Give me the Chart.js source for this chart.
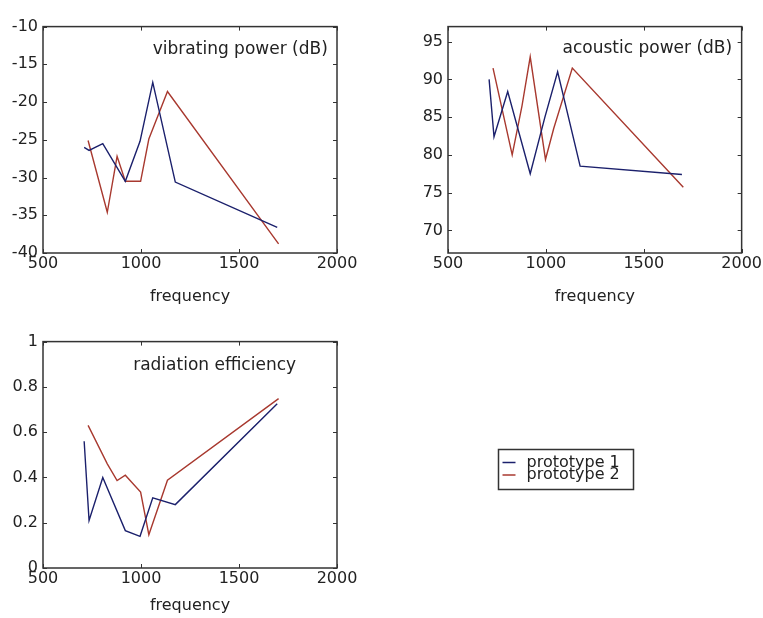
<!DOCTYPE html>
<html>
<head>
<meta charset="utf-8">
<title>prototype 1 / prototype 2</title>
<script src="https://cdn.jsdelivr.net/npm/chart.js@4.4.1/dist/chart.umd.min.js"></script>
<style>
  body { margin: 0; background: #fff; overflow: hidden; }
  .wrap { position: relative; width: 763px; height: 618px; }
  canvas { position: absolute; }
</style>
</head>
<body>
<div class="wrap">
  <canvas id="vibChart" width="362" height="294" style="left:0;top:12px"></canvas>
  <canvas id="acoChart" width="358" height="294" style="left:405px;top:12px"></canvas>
  <canvas id="radChart" width="763" height="293" style="left:0;top:327px"></canvas>
</div>
<script>
// frequencies of the two prototypes
const freqP1 = [710, 735, 805, 920, 995, 1060, 1175, 1695];
const freqP2 = [730, 828, 878, 920, 998, 1040, 1135, 1702];

// vibrating power (dB)
const vibP1 = [-26.0, -26.4, -25.5, -30.5, -25.2, -17.4, -30.6, -36.6];
const vibP2 = [-25.1, -34.6, -27.2, -30.5, -30.5, -24.9, -18.6, -38.8];

// acoustic power (dB)
const acoP1 = [90.0, 82.4, 88.4, 77.5, 85.0, 91.0, 78.5, 77.4];
const acoP2 = [91.5, 80.0, 86.5, 93.0, 79.4, 83.5, 91.5, 75.7];

// radiation efficiency
const radP1 = [0.56, 0.21, 0.40, 0.165, 0.14, 0.31, 0.28, 0.725];
const radP2 = [0.63, 0.46, 0.386, 0.41, 0.335, 0.147, 0.388, 0.748];

// tick labels
const freqTicks = [500, 1000, 1500, 2000];
const vibTicks = [-40, -35, -30, -25, -20, -15, -10];
const acoTicks = [70, 75, 80, 85, 90, 95];
const radTicks = [0, 0.2, 0.4, 0.6, 0.8, 1];

const seriesNames = ["prototype 1", "prototype 2"];
const BLUE = "#1b206c";
const RED = "#a8392f";

Chart.defaults.font.family = "'DejaVu Sans', sans-serif";
Chart.defaults.font.size = 16;
Chart.defaults.color = "#222";

const toPoints = (xs, ys) => xs.map((x, i) => ({ x: x, y: ys[i] }));

// box round the plot, inward ticks, note text and (optional) legend
const boxPlugin = {
  id: "box",
  afterDatasetsDraw(chart, args, opts) {
    const { ctx, chartArea: a, scales } = chart;
    ctx.save();
    ctx.strokeStyle = "#333";
    ctx.lineWidth = 1;
    ctx.beginPath();
    scales.x.ticks.forEach((t) => {
      const px = Math.round(scales.x.getPixelForValue(t.value)) + 0.5;
      ctx.moveTo(px, a.bottom); ctx.lineTo(px, a.bottom - 4);
      ctx.moveTo(px, a.top); ctx.lineTo(px, a.top + 4);
    });
    scales.y.ticks.forEach((t) => {
      const py = Math.round(scales.y.getPixelForValue(t.value)) + 0.5;
      ctx.moveTo(a.left, py); ctx.lineTo(a.left + 4, py);
      ctx.moveTo(a.right, py); ctx.lineTo(a.right - 4, py);
    });
    ctx.stroke();
    ctx.lineWidth = 1.5;
    ctx.strokeRect(a.left, a.top, a.width, a.height);

    // note inside the axes
    ctx.fillStyle = "#222";
    ctx.font = "17px 'DejaVu Sans', sans-serif";
    ctx.textBaseline = "middle";
    ctx.textAlign = "left";
    ctx.fillText(opts.note, scales.x.getPixelForValue(opts.noteX), scales.y.getPixelForValue(opts.noteY));

    if (opts.legend) {
      const L = opts.legend;
      ctx.lineWidth = 1.5;
      ctx.strokeRect(L.x, L.y, L.w, L.h);
      ctx.font = "16px 'DejaVu Sans', sans-serif";
      chart.data.datasets.forEach((ds, i) => {
        const y = L.y + 13 + i * 12.5;
        ctx.strokeStyle = ds.borderColor;
        ctx.beginPath();
        ctx.moveTo(L.x + 4, y); ctx.lineTo(L.x + 17, y);
        ctx.stroke();
        ctx.fillStyle = "#222";
        ctx.fillText(ds.label, L.x + 28, y);
      });
    }
    ctx.restore();
  },
};

function makeChart(id, p1, p2, yMin, yMax, yTicks, box, xAxisHeight, titlePad) {
  return new Chart(document.getElementById(id), {
    type: "line",
    data: {
      datasets: [
        { label: seriesNames[0], data: toPoints(freqP1, p1), borderColor: BLUE },
        { label: seriesNames[1], data: toPoints(freqP2, p2), borderColor: RED },
      ],
    },
    options: {
      responsive: false,
      animation: false,
      devicePixelRatio: 1,
      layout: { padding: box.padding },
      elements: {
        line: { borderWidth: 1.4, tension: 0, fill: false },
        point: { radius: 0, hoverRadius: 0 },
      },
      plugins: { legend: { display: false }, tooltip: { enabled: false }, box: box },
      scales: {
        x: {
          type: "linear",
          min: 500,
          max: 2000,
          grid: { display: false, drawTicks: false },
          border: { display: false },
          afterBuildTicks: (axis) => { axis.ticks = freqTicks.map((v) => ({ value: v })); },
          afterFit: (axis) => { axis.height = xAxisHeight; },
          ticks: { padding: 1, autoSkip: false, maxRotation: 0, callback: (v) => String(v) },
          title: { display: true, text: "frequency", font: { size: 16 }, padding: { top: 0, bottom: titlePad } },
        },
        y: {
          min: yMin,
          max: yMax,
          grid: { display: false, drawTicks: false },
          border: { display: false },
          afterBuildTicks: (axis) => { axis.ticks = yTicks.map((v) => ({ value: v })); },
          afterFit: (axis) => { axis.width = 43; },
          ticks: { padding: 5, autoSkip: false, callback: (v) => String(Math.round(v * 10) / 10) },
        },
      },
    },
    plugins: [boxPlugin],
  });
}

makeChart("vibChart", vibP1, vibP2, -40, -10, vibTicks,
  { note: "vibrating power (dB)", noteX: 1060, noteY: -13, padding: { top: 12, right: 25, left: 0, bottom: 0 } }, 53, 0);

makeChart("acoChart", acoP1, acoP2, 67, 97, acoTicks,
  { note: "acoustic power (dB)", noteX: 1085, noteY: 94.1, padding: { top: 12, right: 21, left: 0, bottom: 0 } }, 53, 0);

makeChart("radChart", radP1, radP2, 0, 1, radTicks,
  { note: "radiation efficiency", noteX: 960, noteY: 0.894, padding: { top: 12, right: 426, left: 0, bottom: 0 },
    legend: { x: 498.5, y: 122.5, w: 135, h: 40 } }, 52, 5);
</script>
</body>
</html>
